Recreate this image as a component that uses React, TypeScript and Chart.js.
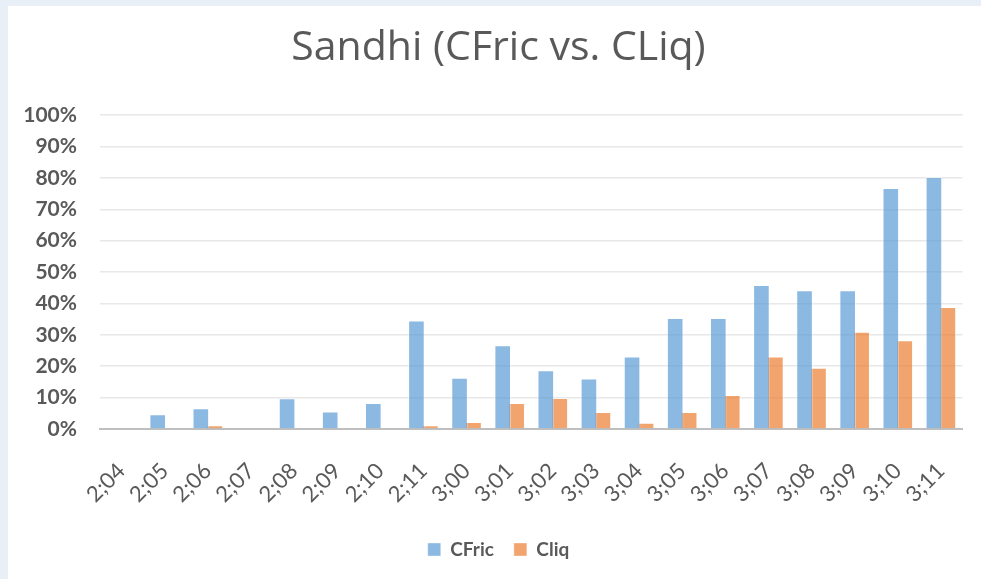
import React, { useEffect, useRef } from "react";
import { Chart, registerables } from "chart.js";

Chart.register(...registerables);

const categories = [
  "2;04", "2;05", "2;06", "2;07", "2;08", "2;09", "2;10", "2;11",
  "3;00", "3;01", "3;02", "3;03", "3;04", "3;05", "3;06", "3;07",
  "3;08", "3;09", "3;10", "3;11",
];
const cfricValues = [
  0, 4.7, 6.6, 0, 9.8, 5.6, 8.3, 34.6, 16.3, 26.7,
  18.7, 16.1, 23.1, 35.4, 35.4, 45.9, 44.2, 44.2, 76.8, 80.3,
];
const cliqValues = [
  0, 0, 1.2, 0, 0, 0, 0, 1.2, 2.2, 8.3,
  9.9, 5.4, 2.0, 5.4, 10.8, 23.1, 19.5, 31.0, 28.3, 38.9,
];
const seriesNames = ["CFric", "Cliq"];
const titleText = "Sandhi (CFric vs. CLiq)";
const yMax = 100;
const yStep = 10;

const FONT = "Lato, 'Open Sans', sans-serif";
const TITLE_FONT = "'Open Sans', Lato, sans-serif";
const TEXT = "#595959";

// lets the y tick labels use the space left of the layout padding
const widenYLabelArea = {
  id: "widenYLabelArea",
  afterLayout(chart: any) {
    if (chart.scales && chart.scales.y) chart.scales.y.left = 0;
  },
};

export default function App() {
  const ref = useRef<HTMLCanvasElement | null>(null);

  useEffect(() => {
    if (!ref.current) return;
    const chart = new Chart(ref.current, {
      type: "bar",
      data: {
        labels: categories,
        datasets: [
          {
            label: seriesNames[0],
            data: cfricValues,
            backgroundColor: "rgba(91,155,213,0.7)",
            borderColor: "rgba(255,255,255,0.35)",
            borderWidth: 1,
            categoryPercentage: 0.648,
            barPercentage: 1.19,
          },
          {
            label: seriesNames[1],
            data: cliqValues,
            backgroundColor: "rgba(237,125,49,0.7)",
            borderColor: "rgba(255,255,255,0.35)",
            borderWidth: 1,
            categoryPercentage: 0.648,
            barPercentage: 1.19,
          },
        ],
      },
      plugins: [widenYLabelArea],
      options: {
        responsive: false,
        animation: false,
        devicePixelRatio: 1,
        layout: { padding: { left: 25, right: 17, top: 0, bottom: 10 } },
        plugins: {
          title: {
            display: true,
            text: titleText,
            color: TEXT,
            font: { family: TITLE_FONT, size: 41, weight: "normal", lineHeight: 1.2 },
            padding: { top: 18, bottom: 42 },
          },
          legend: {
            display: true,
            position: "bottom",
            labels: {
              color: TEXT,
              font: { family: FONT, size: 19, weight: "bold" },
              boxWidth: 13,
              boxHeight: 13,
              padding: 20,
              useBorderRadius: false,
            },
          },
          tooltip: { enabled: false },
        },
        scales: {
          x: {
            grid: { display: false },
            border: { display: true, color: "#BFBFBF", width: 2 },
            ticks: {
              color: TEXT,
              font: { family: FONT, size: 22 },
              maxRotation: 45,
              minRotation: 45,
              autoSkip: false,
              padding: 21,
            },
            afterFit: (scale: any) => {
              scale.height = 91;
            },
          },
          y: {
            min: 0,
            max: yMax,
            grid: { color: "#E8E8E8", lineWidth: 1.5, drawTicks: false },
            border: { display: false },
            ticks: {
              stepSize: yStep,
              color: TEXT,
              font: { family: FONT, size: 21, weight: "bold" },
              padding: 23,
              callback: (v: any) => v + "%",
            },
            afterFit: (scale: any) => {
              scale.width = 67;
            },
          },
        },
      },
    });
    return () => chart.destroy();
  }, []);

  return (
    <div
      style={{
        position: "fixed",
        left: 0,
        top: 0,
        width: 981,
        height: 579,
        background: "#E9EFF7",
        overflow: "hidden",
      }}
    >
      <div
        style={{
          position: "absolute",
          left: 8,
          top: 6,
          width: 973,
          height: 573,
          background: "#FFFFFF",
        }}
      >
        <canvas ref={ref} width={973} height={573} style={{ display: "block" }} />
      </div>
    </div>
  );
}
